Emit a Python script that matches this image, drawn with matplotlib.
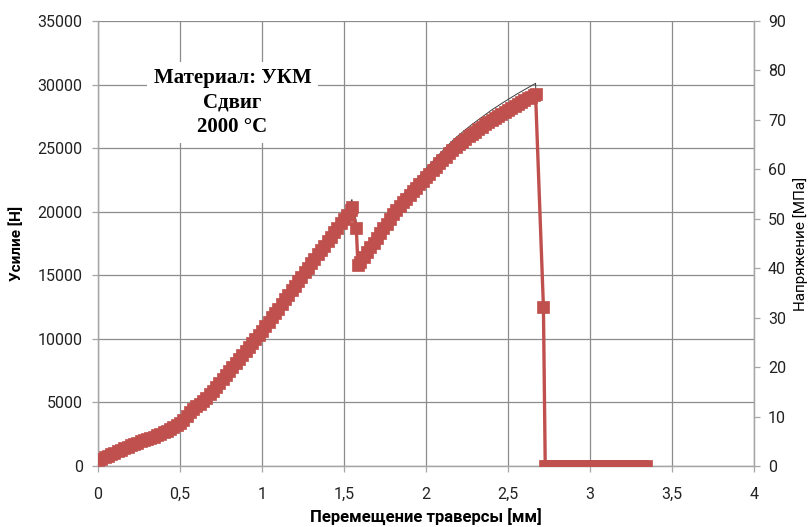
import matplotlib
matplotlib.use("Agg")
import matplotlib.pyplot as plt
from matplotlib.ticker import FuncFormatter, MultipleLocator

# Crosshead displacement, mm
displacement = [
    0.00, 0.02, 0.04, 0.06, 0.08, 0.10, 0.12, 0.14, 0.16, 0.18,
    0.20, 0.22, 0.24, 0.26, 0.28, 0.30, 0.32, 0.34, 0.36, 0.38,
    0.40, 0.42, 0.44, 0.46, 0.48, 0.50, 0.52, 0.54, 0.56, 0.58,
    0.60, 0.62, 0.64, 0.66, 0.68, 0.70, 0.72, 0.74, 0.76, 0.78,
    0.80, 0.82, 0.84, 0.86, 0.88, 0.90, 0.92, 0.94, 0.96, 0.98,
    1.00, 1.02, 1.04, 1.06, 1.08, 1.10, 1.12, 1.14, 1.16, 1.18,
    1.20, 1.22, 1.24, 1.26, 1.28, 1.30, 1.32, 1.34, 1.36, 1.38,
    1.40, 1.42, 1.44, 1.46, 1.48, 1.50, 1.52, 1.54,
    1.548, 1.575, 1.585,
    1.60, 1.62, 1.64, 1.66, 1.68, 1.70, 1.72, 1.74, 1.76, 1.78,
    1.80, 1.82, 1.84, 1.86, 1.88, 1.90, 1.92, 1.94, 1.96, 1.98,
    2.00, 2.02, 2.04, 2.06, 2.08, 2.10, 2.12, 2.14, 2.16, 2.18,
    2.20, 2.22, 2.24, 2.26, 2.28, 2.30, 2.32, 2.34, 2.36, 2.38,
    2.40, 2.42, 2.44, 2.46, 2.48, 2.50, 2.52, 2.54, 2.56, 2.58,
    2.60, 2.62, 2.64, 2.66,
    2.668, 2.716, 2.727,
    2.74, 2.76, 2.78, 2.80, 2.82, 2.84, 2.86, 2.88, 2.90, 2.92,
    2.94, 2.96, 2.98, 3.00, 3.02, 3.04, 3.06, 3.08, 3.10, 3.12,
    3.14, 3.16, 3.18, 3.20, 3.22, 3.24, 3.26, 3.28, 3.30, 3.32,
    3.34,
]

# Load, N
force = [
    460, 600, 720, 840, 950, 1060, 1200, 1330, 1450, 1570,
    1680, 1790, 1890, 1990, 2080, 2170, 2270, 2370, 2470, 2580,
    2720, 2840, 2980, 3120, 3280, 3450, 3730, 4040, 4330, 4620,
    4860, 5030, 5240, 5500, 5800, 6100, 6400, 6710, 7030, 7340,
    7650, 7970, 8300, 8620, 8940, 9270, 9600, 9920, 10260, 10610,
    10950, 11310, 11670, 12030, 12380, 12740, 13110, 13470, 13840, 14200,
    14560, 14940, 15310, 15670, 16030, 16400, 16760, 17120, 17470, 17830,
    18200, 18550, 18900, 19260, 19620, 19980, 20340, 20700,
    20960, 19230, 16250,
    16540, 16920, 17310, 17690, 18080, 18460, 18840, 19230, 19610, 19990,
    20380, 20720, 21030, 21340, 21640, 21930, 22230, 22520, 22810, 23090,
    23370, 23660, 23940, 24220, 24500, 24760, 25030, 25300, 25560, 25800,
    26020, 26240, 26450, 26660, 26860, 27050, 27250, 27440, 27630, 27820,
    28000, 28170, 28340, 28510, 28670, 28830, 28990, 29140, 29300, 29450,
    29590, 29740, 29890, 30030,
    30100, 12860, 0,
    0, 0, 0, 0, 0, 0, 0, 0, 0, 0,
    0, 0, 0, 0, 0, 0, 0, 0, 0, 0,
    0, 0, 0, 0, 0, 0, 0, 0, 0, 0,
    0,
]

# Sheared area of the specimen, mm^2
area = 400.0
stress = [f / area for f in force]  # MPa

title_lines = ["Материал: УКМ", "Сдвиг", "2000 °С"]

RED = "#C0504D"
GRID = "#8c8c8c"
SPINE = "#a6a6a6"
FONT = ["Roboto", "DejaVu Sans"]

plt.rcParams["font.family"] = FONT

fig = plt.figure(figsize=(8.1, 5.27), dpi=100)
ax = fig.add_axes([98 / 810, 1 - 466 / 527, (754 - 98) / 810, (466 - 21) / 527])
ax2 = ax.twinx()

ax.plot(displacement, force, color="#3c3c3c", lw=0.7, zorder=3)
ax2.plot(displacement, stress, color=RED, lw=2.4, marker="s", markersize=8.8,
         markerfacecolor=RED, markeredgecolor=RED, markeredgewidth=0.5,
         zorder=3)

ax.set_xlim(0, 4)
ax.set_ylim(0, 35000)
ax2.set_ylim(0, 90)

ax.xaxis.set_major_locator(MultipleLocator(0.5))
ax.yaxis.set_major_locator(MultipleLocator(5000))
ax2.yaxis.set_major_locator(MultipleLocator(10))

ax.xaxis.set_major_formatter(FuncFormatter(lambda v, p: f"{v:g}".replace(".", ",")))

ax.grid(True, color=GRID, lw=0.9)
ax.set_axisbelow(True)

for a in (ax, ax2):
    for s in a.spines.values():
        s.set_color(SPINE)
        s.set_linewidth(0.9)
    a.spines["top"].set_visible(False)

ax.tick_params(axis="x", direction="out", length=4, width=0.9, color=SPINE,
               pad=11, labelsize=11.5, labelcolor="#222222")
ax.tick_params(axis="y", direction="out", length=4, width=0.9, color=SPINE,
               pad=7, labelsize=11.5, labelcolor="#222222")
ax2.tick_params(axis="y", direction="out", length=4, width=0.9, color=SPINE,
                pad=6, labelsize=11.5, labelcolor="#222222")

ax.set_xlabel("Перемещение траверсы [мм]", fontsize=12, fontweight="bold",
              labelpad=5)
ax.set_ylabel("Усилие [Н]", fontsize=11, fontweight="bold", labelpad=10)
ax2.set_ylabel("Напряжение [МПа]", fontsize=11, labelpad=5)

ax.text(0.82, 28600, "\n".join(title_lines), ha="center", va="center",
        fontsize=15, fontweight="bold", family=["Liberation Serif", "DejaVu Serif"],
        linespacing=1.3, zorder=5,
        bbox=dict(facecolor="white", edgecolor="none", boxstyle="square,pad=0.3"))

fig.savefig("out.png", dpi=100)
